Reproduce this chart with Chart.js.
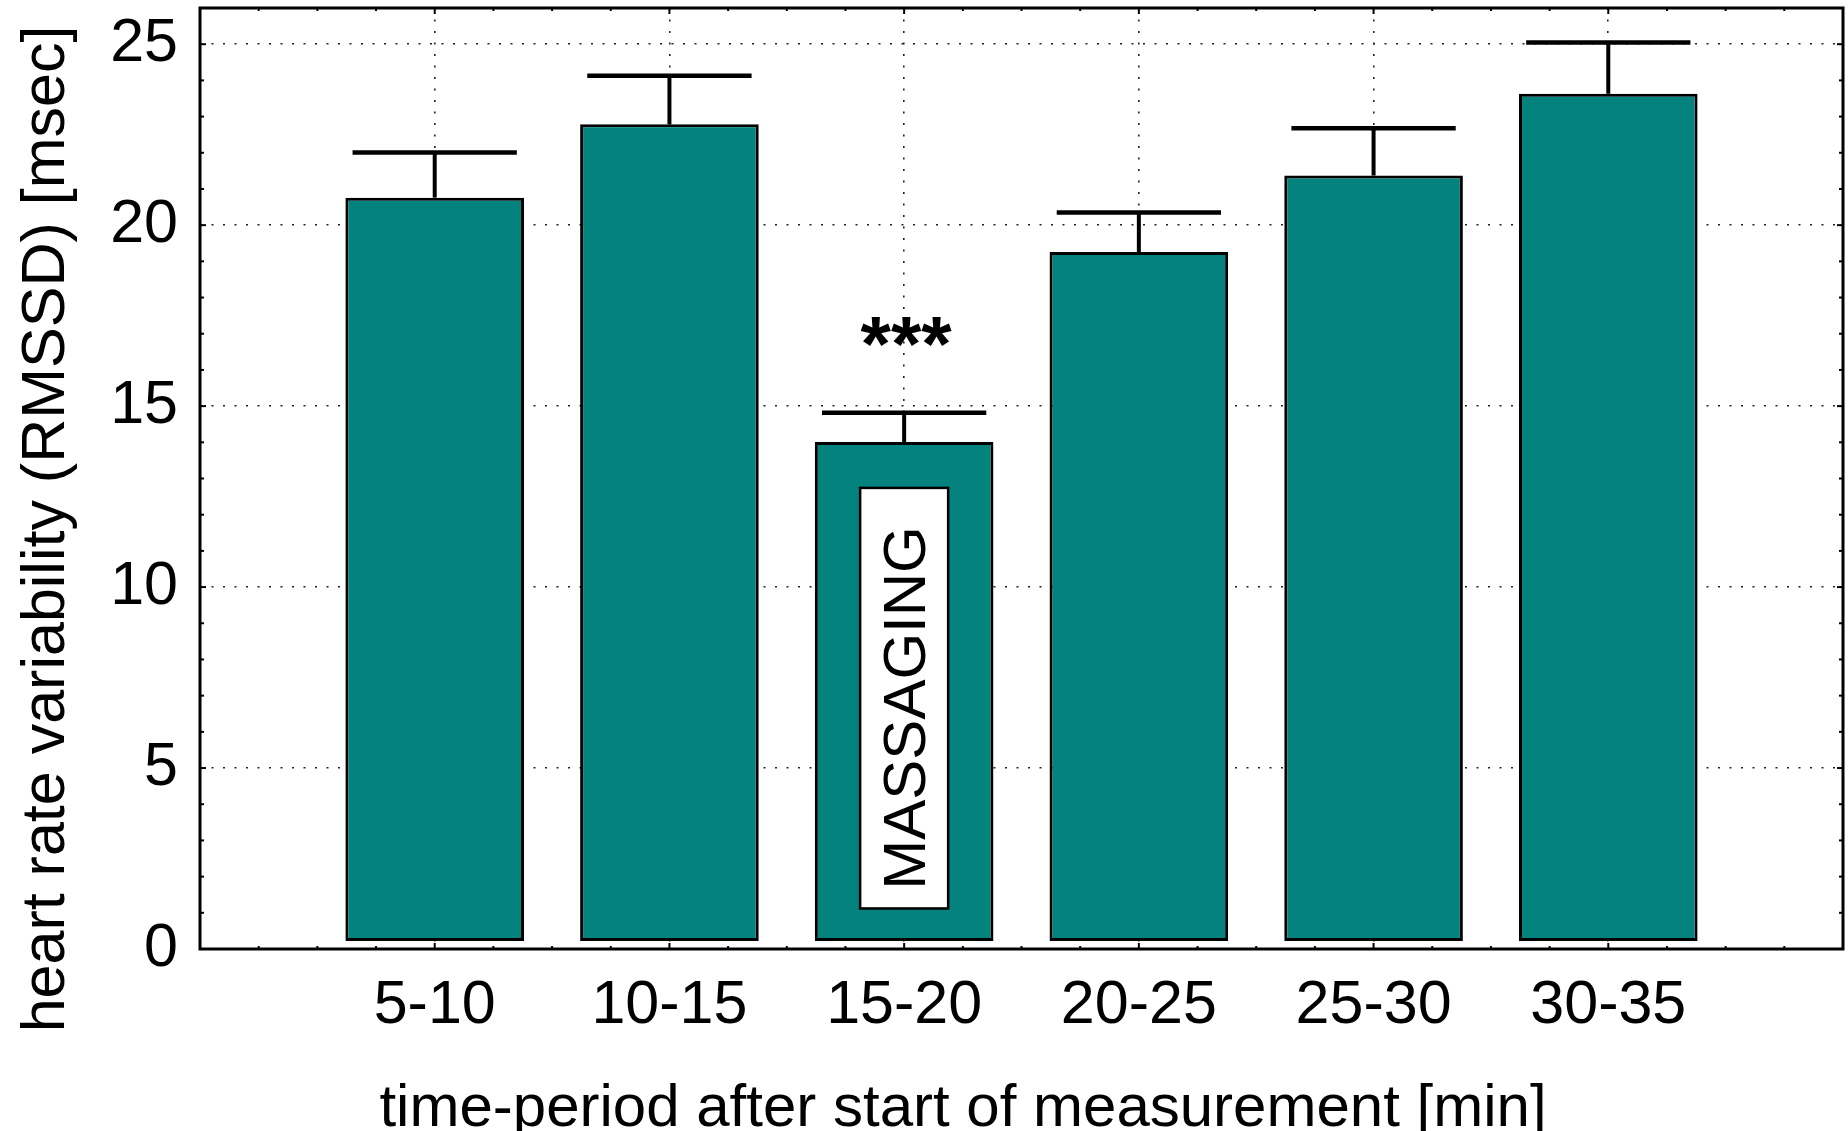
<!DOCTYPE html>
<html>
<head>
<meta charset="utf-8">
<script src="https://cdn.jsdelivr.net/npm/chart.js@4/dist/chart.umd.min.js"></script>
<style>
  html, body { margin: 0; padding: 0; background: #ffffff; }
  canvas { display: block; }
</style>
</head>
<body>
<canvas id="hrv" width="1848" height="1131"></canvas>
<script>
// Time periods (minutes after start of measurement)
const categories = ['5-10', '10-15', '15-20', '20-25', '25-30', '30-35'];
// Mean RMSSD per period [msec]
const meanRMSSD = [20.76, 22.79, 14.01, 19.26, 21.37, 23.63];
// Standard error drawn as the upper whisker [msec]
const errorRMSSD = [1.25, 1.34, 0.81, 1.09, 1.31, 1.42];
// Labelled ticks on the value axis
const yTickValues = [0, 5, 10, 15, 20, 25];
// Period marked as the massaging phase and its significance
const markedPeriod = '15-20';
const significanceMark = '***';
const periodNote = 'MASSAGING';
const xTitle = 'time-period after start of measurement [min]';
const yTitle = 'heart rate variability (RMSSD) [msec]';

const FONT = "'Liberation Sans', Arial, Helvetica, sans-serif";
const TEAL = '#03827E';

function line(ctx, x1, y1, x2, y2) {
  ctx.beginPath();
  ctx.moveTo(x1, y1);
  ctx.lineTo(x2, y2);
  ctx.stroke();
}

// Error whiskers, significance mark and the note box inside the marked bar
const barDecor = {
  id: 'barDecor',
  afterDatasetsDraw(chart) {
    const { ctx, scales: { x, y } } = chart;
    ctx.save();
    ctx.strokeStyle = '#000';
    ctx.lineCap = 'butt';
    categories.forEach((c, i) => {
      const pos = i + 1;
      const cx = x.getPixelForValue(pos);
      const yMean = y.getPixelForValue(meanRMSSD[i]);
      const yUp = y.getPixelForValue(meanRMSSD[i] + errorRMSSD[i]);
      ctx.lineWidth = 4;
      line(ctx, cx, yMean, cx, yUp);
      ctx.lineWidth = 4.5;
      line(ctx, x.getPixelForValue(pos - 0.35), yUp, x.getPixelForValue(pos + 0.35), yUp);
    });

    const k = categories.indexOf(markedPeriod) + 1;
    const cx = x.getPixelForValue(k);

    // significance asterisks above the whisker
    ctx.fillStyle = '#000';
    ctx.font = 'bold 78px ' + FONT;
    ctx.textAlign = 'center';
    ctx.textBaseline = 'alphabetic';
    ctx.fillText(significanceMark, cx + 2, y.getPixelForValue(15.98));

    // white note box
    const bx1 = x.getPixelForValue(k - 0.1875);
    const bx2 = x.getPixelForValue(k + 0.1875);
    const by1 = y.getPixelForValue(12.74);
    const by2 = y.getPixelForValue(1.12);
    ctx.fillStyle = '#ffffff';
    ctx.fillRect(bx1, by1, bx2 - bx1, by2 - by1);
    ctx.lineWidth = 2.5;
    ctx.strokeRect(bx1, by1, bx2 - bx1, by2 - by1);

    ctx.save();
    ctx.translate((bx1 + bx2) / 2 + 21, y.getPixelForValue(6.66));
    ctx.rotate(-Math.PI / 2);
    ctx.fillStyle = '#000';
    ctx.font = '60px ' + FONT;
    ctx.textAlign = 'center';
    ctx.textBaseline = 'alphabetic';
    ctx.fillText(periodNote, 0, 0);
    ctx.restore();

    ctx.restore();
  }
};

// Plot frame with inward tick marks on all four sides, and the axis titles
const frameDecor = {
  id: 'frameDecor',
  afterDraw(chart) {
    const { ctx, chartArea: a, scales: { x, y } } = chart;
    ctx.save();
    ctx.strokeStyle = '#000';
    ctx.lineWidth = 2;
    for (let v = 0; v <= 26; v++) {
      const py = y.getPixelForValue(v);
      const len = v % 5 === 0 ? 6 : 4;
      line(ctx, a.left, py, a.left + len, py);
      line(ctx, a.right, py, a.right - len, py);
    }
    for (let q = 0; q <= 28; q++) {
      const v = q / 4;
      const px = x.getPixelForValue(v);
      const len = q % 4 === 0 ? 6 : 3;
      line(ctx, px, a.bottom, px, a.bottom - len);
      line(ctx, px, a.top, px, a.top + len);
    }
    ctx.lineWidth = 3;
    ctx.strokeRect(a.left, a.top, a.right - a.left, a.bottom - a.top);

    ctx.fillStyle = '#000';
    ctx.textBaseline = 'alphabetic';
    ctx.textAlign = 'center';
    ctx.font = '60px ' + FONT;
    ctx.fillText(xTitle, 963, 1126);

    ctx.save();
    ctx.translate(64, 529);
    ctx.rotate(-Math.PI / 2);
    ctx.font = '61px ' + FONT;
    ctx.fillText(yTitle, 0, 0);
    ctx.restore();
    ctx.restore();
  }
};

new Chart(document.getElementById('hrv'), {
  type: 'bar',
  data: {
    datasets: [{
      data: categories.map((c, i) => ({ x: i + 1, y: meanRMSSD[i] })),
      backgroundColor: TEAL,
      borderColor: '#000',
      borderWidth: 3,
      borderSkipped: false,
      base: 0.22,
      barPercentage: 0.761,
      categoryPercentage: 1
    }]
  },
  options: {
    responsive: false,
    devicePixelRatio: 1,
    animation: false,
    layout: { padding: { top: 8, right: 5, left: 0, bottom: 0 } },
    plugins: { legend: { display: false }, tooltip: { enabled: false } },
    scales: {
      x: {
        type: 'linear',
        offset: false,
        min: 0,
        max: 7,
        afterFit(s) {
          s.height = 182;
          s.paddingLeft = 0; s.paddingRight = 0; s.paddingTop = 0; s.paddingBottom = 0;
        },
        ticks: {
          stepSize: 1,
          autoSkip: false,
          maxRotation: 0,
          padding: 27,
          color: '#000',
          font: { family: FONT, size: 61, lineHeight: 1 },
          callback: (v) => categories[v - 1] ?? ''
        },
        grid: { drawTicks: false, color: '#222', lineWidth: 1.6, offset: false },
        border: { display: false, dash: [2, 9.5] }
      },
      y: {
        min: 0,
        max: 26,
        afterFit(s) {
          s.width = 200;
          s.paddingLeft = 0; s.paddingRight = 0; s.paddingTop = 0; s.paddingBottom = 0;
        },
        afterBuildTicks(s) { s.ticks = yTickValues.map(v => ({ value: v })); },
        ticks: {
          padding: 22,
          color: '#000',
          font: { family: FONT, size: 61, lineHeight: 1 }
        },
        grid: { drawTicks: false, color: '#222', lineWidth: 1.6 },
        border: { display: false, dash: [2, 9.5] }
      }
    }
  },
  plugins: [barDecor, frameDecor]
});
</script>
</body>
</html>
